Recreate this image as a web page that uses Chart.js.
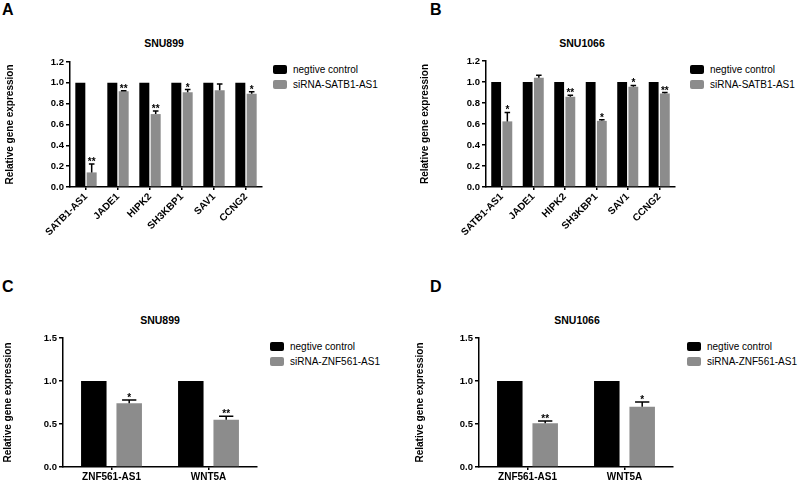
<!DOCTYPE html>
<html lang="en">
<head>
<meta charset="UTF-8">
<title>Relative gene expression | SNU899 / SNU1066</title>
<script src="https://cdn.jsdelivr.net/npm/chart.js"></script>
<style>
  body { margin: 0; background: #fff; font-family: "Liberation Sans", Arial, sans-serif; color: #000; }
  #page { position: relative; width: 800px; height: 481px; overflow: hidden; }
  canvas { position: absolute; }
  .letter { position: absolute; font-weight: bold; font-size: 16px; line-height: 16px; }
  .title { position: absolute; font-weight: bold; font-size: 10.5px; transform: translate(-50%, -50%); white-space: nowrap; }
  .legend { position: absolute; font-size: 10px; line-height: 15px; white-space: nowrap; }
  .legend .box { display: inline-block; width: 14px; height: 9px; border-radius: 2px; margin-right: 6px; vertical-align: -1px; }
</style>
</head>
<body>
<div id="page">
  <div class="letter" style="left:2px;top:2px">A</div>
  <div class="letter" style="left:430px;top:2px">B</div>
  <div class="letter" style="left:2px;top:279px">C</div>
  <div class="letter" style="left:430px;top:279px">D</div>

  <div class="title" style="left:164px;top:43px">SNU899</div>
  <div class="title" style="left:582px;top:43px">SNU1066</div>
  <div class="title" style="left:160px;top:320px">SNU899</div>
  <div class="title" style="left:577px;top:320px">SNU1066</div>

  <div class="legend" style="left:273px;top:62px">
    <div><span class="box" style="background:#000"></span>negtive control</div>
    <div><span class="box" style="background:#8c8c8c"></span>siRNA-SATB1-AS1</div>
  </div>
  <div class="legend" style="left:690px;top:62px">
    <div><span class="box" style="background:#000"></span>negtive control</div>
    <div><span class="box" style="background:#8c8c8c"></span>siRNA-SATB1-AS1</div>
  </div>
  <div class="legend" style="left:270px;top:339px">
    <div><span class="box" style="background:#000"></span>negtive control</div>
    <div><span class="box" style="background:#8c8c8c"></span>siRNA-ZNF561-AS1</div>
  </div>
  <div class="legend" style="left:687px;top:339px">
    <div><span class="box" style="background:#000"></span>negtive control</div>
    <div><span class="box" style="background:#8c8c8c"></span>siRNA-ZNF561-AS1</div>
  </div>

  <canvas id="chartA" width="264" height="240" style="left:0;top:0"></canvas>
  <canvas id="chartB" width="267" height="240" style="left:410px;top:0"></canvas>
  <canvas id="chartC" width="259" height="241" style="left:0;top:240px"></canvas>
  <canvas id="chartD" width="265" height="241" style="left:410px;top:240px"></canvas>
</div>

<script>
// ---- data ----
const genesSATB1 = ['SATB1-AS1', 'JADE1', 'HIPK2', 'SH3KBP1', 'SAV1', 'CCNG2'];
const genesZNF = ['ZNF561-AS1', 'WNT5A'];

// A: SNU899, siRNA-SATB1-AS1
const controlA = [1, 1, 1, 1, 1, 1];
const siRnaA = [0.14, 0.92, 0.70, 0.91, 0.93, 0.895];
const errA = [0.08, 0.005, 0.03, 0.025, 0.06, 0.02];
const starsA = ['**', '**', '**', '*', '', '*'];

// B: SNU1066, siRNA-SATB1-AS1
const controlB = [1, 1, 1, 1, 1, 1];
const siRnaB = [0.625, 1.04, 0.86, 0.63, 0.955, 0.89];
const errB = [0.085, 0.025, 0.013, 0.01, 0.012, 0.01];
const starsB = ['*', '', '**', '*', '*', '**'];

// C: SNU899, siRNA-ZNF561-AS1
const controlC = [1, 1];
const siRnaC = [0.74, 0.55];
const errC = [0.04, 0.04];
const starsC = ['*', '**'];

// D: SNU1066, siRNA-ZNF561-AS1
const controlD = [1, 1];
const siRnaD = [0.51, 0.70];
const errD = [0.025, 0.055];
const starsD = ['**', '*'];

const yTicksSATB1 = [0, 0.2, 0.4, 0.6, 0.8, 1.0, 1.2];
const yTicksZNF = [0, 0.5, 1.0, 1.5];

const FONT = '"Liberation Sans", Arial, sans-serif';

// draws the upper error bar + significance stars on the siRNA bars
const errorBars = {
    id: 'errorBars',
    afterDatasetsDraw(chart, args, opts) {
        const ctx = chart.ctx;
        const yScale = chart.scales.y;
        const meta = chart.getDatasetMeta(1);
        ctx.save();
        ctx.strokeStyle = '#000';
        ctx.fillStyle = '#000';
        ctx.lineWidth = 1.5;
        ctx.font = 'bold 10px ' + FONT;
        ctx.textAlign = 'center';
        ctx.textBaseline = 'alphabetic';
        meta.data.forEach((bar, i) => {
            const top = yScale.getPixelForValue(opts.values[i] + opts.errors[i]);
            const half = bar.width * 0.28;
            ctx.beginPath();
            ctx.moveTo(bar.x, bar.y);
            ctx.lineTo(bar.x, top);
            ctx.moveTo(bar.x - half, top);
            ctx.lineTo(bar.x + half, top);
            ctx.stroke();
            if (opts.stars[i]) {
                ctx.fillText(opts.stars[i], bar.x, top + 1);
            }
        });
        ctx.restore();
    }
};

function makeChart(id, labels, control, siRna, errors, stars, cfg) {
    const ctx = document.getElementById(id).getContext('2d');
    return new Chart(ctx, {
        type: 'bar',
        data: {
            labels: labels,
            datasets: [
                {
                    label: 'negtive control',
                    data: control,
                    backgroundColor: '#000',
                    barPercentage: cfg.barPct,
                    categoryPercentage: cfg.catPct
                },
                {
                    label: cfg.siLabel,
                    data: siRna,
                    backgroundColor: '#8c8c8c',
                    barPercentage: cfg.barPct,
                    categoryPercentage: cfg.catPct
                }
            ]
        },
        options: {
            responsive: false,
            animation: false,
            devicePixelRatio: 1,
            layout: { padding: { top: cfg.padTop, right: 2, left: 0, bottom: 0 } },
            plugins: {
                legend: { display: false },
                tooltip: { enabled: false },
                errorBars: { values: siRna, errors: errors, stars: stars }
            },
            scales: {
                x: {
                    grid: { display: true, drawOnChartArea: false, offset: false, color: '#000', tickLength: 3, lineWidth: 1.5 },
                    border: { display: true, color: '#000', width: 1.5 },
                    ticks: {
                        color: '#000',
                        font: { family: FONT, size: 10, weight: 'bold' },
                        maxRotation: cfg.rotate,
                        minRotation: cfg.rotate,
                        padding: 1,
                        autoSkip: false
                    },
                    afterFit(scale) { scale.height = cfg.xHeight; }
                },
                y: {
                    min: 0,
                    max: cfg.yTicks[cfg.yTicks.length - 1],
                    afterBuildTicks(scale) { scale.ticks = cfg.yTicks.map(v => ({ value: v })); },
                    grid: { display: true, drawOnChartArea: false, color: '#000', tickLength: 4, lineWidth: 1.5 },
                    border: { display: true, color: '#000', width: 1.5 },
                    ticks: {
                        color: '#000',
                        font: { family: FONT, size: 9.5, weight: 'bold' },
                        padding: 2,
                        callback: v => Number(v).toFixed(1)
                    },
                    title: {
                        display: true,
                        text: 'Relative gene expression',
                        color: '#000',
                        font: { family: FONT, size: 10, weight: 'bold' },
                        padding: { top: cfg.titlePad, bottom: 0 }
                    },
                    afterFit(scale) { scale.width = cfg.yWidth; }
                }
            }
        },
        plugins: [errorBars]
    });
}

makeChart('chartA', genesSATB1, controlA, siRnaA, errA, starsA, {
    siLabel: 'siRNA-SATB1-AS1', yTicks: yTicksSATB1, rotate: 45,
    barPct: 0.88, catPct: 0.71, padTop: 62, xHeight: 53, yWidth: 70, titlePad: 4
});
makeChart('chartB', genesSATB1, controlB, siRnaB, errB, starsB, {
    siLabel: 'siRNA-SATB1-AS1', yTicks: yTicksSATB1, rotate: 45,
    barPct: 0.88, catPct: 0.71, padTop: 61, xHeight: 53, yWidth: 76, titlePad: 9
});
makeChart('chartC', genesZNF, controlC, siRnaC, errC, starsC, {
    siLabel: 'siRNA-ZNF561-AS1', yTicks: yTicksZNF, rotate: 0,
    barPct: 0.72, catPct: 0.73, padTop: 98, xHeight: 14, yWidth: 63, titlePad: 2
});
makeChart('chartD', genesZNF, controlD, siRnaD, errD, starsD, {
    siLabel: 'siRNA-ZNF561-AS1', yTicks: yTicksZNF, rotate: 0,
    barPct: 0.72, catPct: 0.73, padTop: 98, xHeight: 14, yWidth: 69, titlePad: 4
});
</script>
</body>
</html>
